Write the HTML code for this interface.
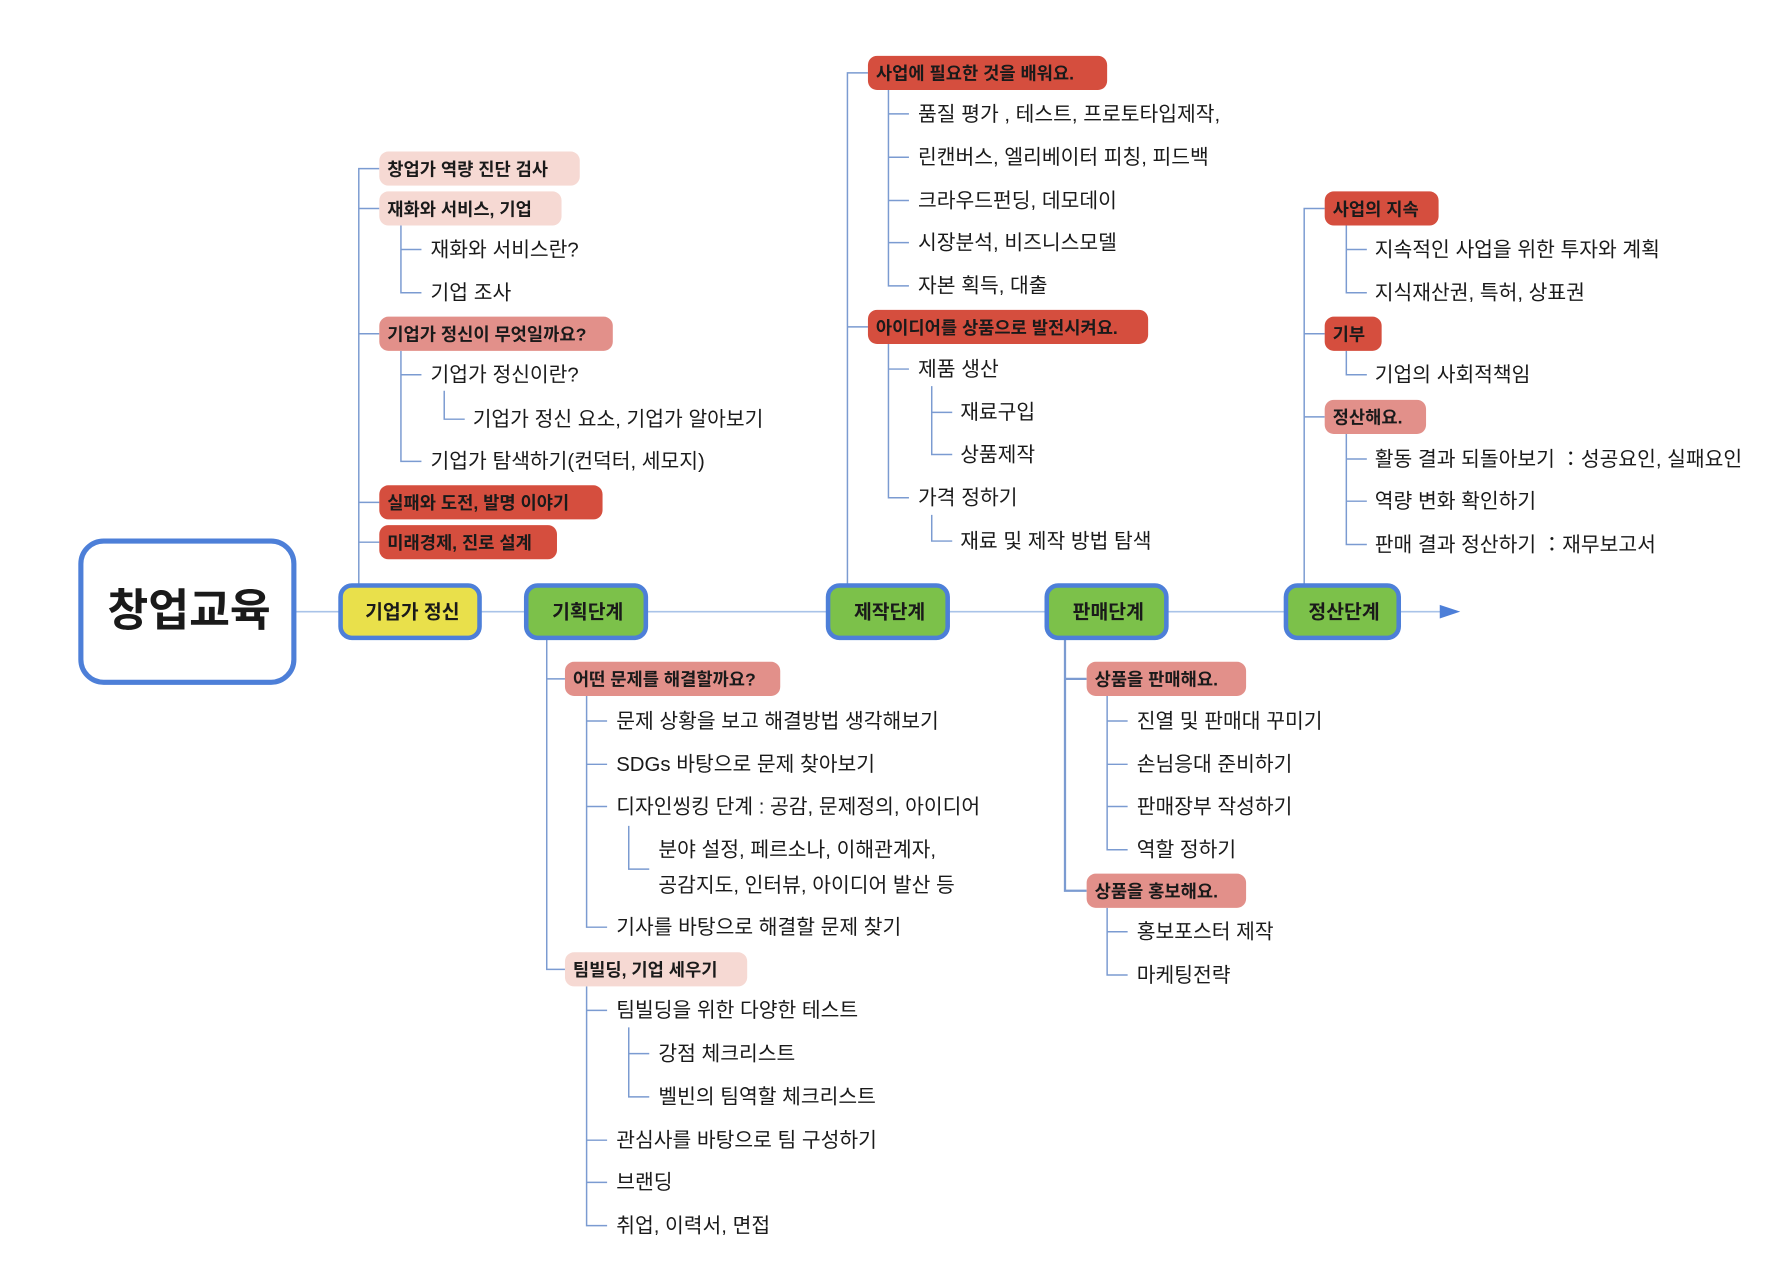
<!DOCTYPE html>
<html><head><meta charset="utf-8"><style>
html,body{margin:0;padding:0;background:#fff;}
svg{display:block;}
text{font-family:"Liberation Sans","Noto Sans CJK KR",sans-serif;fill:#1a1a1a;}
.l{font-size:17.9px;}
.p{font-size:15.5px;font-weight:bold;}
.c{stroke:#7b9bd1;stroke-width:1.3;fill:none;}
.red{fill:#d54e3e;} .mid{fill:#e2908a;} .lt{fill:#f6d9d3;}
.st{stroke:#4d7fd8;stroke-width:4;}
</style></head><body>
<svg width="1786" height="1286" viewBox="0 0 1568 1129" xmlns="http://www.w3.org/2000/svg">
<line x1="259" y1="537" x2="1266" y2="537" stroke="#a9c3e8" stroke-width="1.5"/>
<polygon points="1264,531 1282,537 1264,543" fill="#4d7fd8"/>
<rect x="71" y="475" width="187" height="124" rx="20" fill="#fff" class="st" style="stroke-width:4.5"/>
<text x="166" y="549" text-anchor="middle" style="font-size:39px;font-weight:bold;">창업교육</text>
<!-- branch 1 -->
<path class="c" d="M315 513 V148 H333 M315 183 H333 M315 293 H333 M315 441 H333 M315 476 H333"/>
<path class="c" d="M352 198 V257 H370 M352 219 H370"/>
<path class="c" d="M352 308 V405 H370 M352 329 H370 M390 343 V368 H408"/>
<rect x="333" y="133" width="176" height="30" rx="8" class="lt"/><text x="340" y="154" class="p">창업가 역량 진단 검사</text>
<rect x="333" y="168" width="160" height="30" rx="8" class="lt"/><text x="340" y="189" class="p">재화와 서비스, 기업</text>
<text x="378" y="225" class="l">재화와 서비스란?</text>
<text x="378" y="263" class="l">기업 조사</text>
<rect x="333" y="278" width="205" height="30" rx="8" class="mid"/><text x="340" y="299" class="p">기업가 정신이 무엇일까요?</text>
<text x="378" y="335" class="l">기업가 정신이란?</text>
<text x="415" y="374" class="l">기업가 정신 요소, 기업가 알아보기</text>
<text x="378" y="411" class="l">기업가 탐색하기(컨덕터, 세모지)</text>
<rect x="333" y="426" width="196" height="30" rx="8" class="red"/><text x="340" y="447" class="p">실패와 도전, 발명 이야기</text>
<rect x="333" y="461" width="156" height="30" rx="8" class="red"/><text x="340" y="482" class="p">미래경제, 진로 설계</text>
<!-- branch 2 -->
<path class="c" d="M480 561 V851 H496 M480 596 H496"/>
<path class="c" d="M515 611 V814 H533 M515 633 H533 M515 671 H533 M515 708 H533 M552 725 V763 H570"/>
<path class="c" d="M515 866 V1076 H533 M515 887 H533 M515 1001 H533 M515 1038 H533 M552 902 V963 H570 M552 925 H570"/>
<rect x="496" y="581" width="189" height="30" rx="8" class="mid"/><text x="503" y="602" class="p">어떤 문제를 해결할까요?</text>
<text x="541" y="639" class="l">문제 상황을 보고 해결방법 생각해보기</text>
<text x="541" y="677" class="l">SDGs 바탕으로 문제 찾아보기</text>
<text x="541" y="714" class="l">디자인씽킹 단계 : 공감, 문제정의, 아이디어</text>
<text x="578" y="752" class="l">분야 설정, 페르소나, 이해관계자,</text>
<text x="578" y="783" class="l">공감지도, 인터뷰, 아이디어 발산 등</text>
<text x="541" y="820" class="l">기사를 바탕으로 해결할 문제 찾기</text>
<rect x="496" y="836" width="160" height="30" rx="8" class="lt"/><text x="503" y="857" class="p">팀빌딩, 기업 세우기</text>
<text x="541" y="893" class="l">팀빌딩을 위한 다양한 테스트</text>
<text x="578" y="931" class="l">강점 체크리스트</text>
<text x="578" y="969" class="l">벨빈의 팀역할 체크리스트</text>
<text x="541" y="1007" class="l">관심사를 바탕으로 팀 구성하기</text>
<text x="541" y="1044" class="l">브랜딩</text>
<text x="541" y="1082" class="l">취업, 이력서, 면접</text>
<!-- branch 3 -->
<path class="c" d="M744 513 V64 H762 M744 287 H762"/>
<path class="c" d="M780 79 V251 H798 M780 100 H798 M780 138 H798 M780 176 H798 M780 213 H798"/>
<path class="c" d="M780 302 V437 H798 M780 324 H798 M818 339 V399 H836 M818 362 H836 M818 452 V475 H836"/>
<rect x="762" y="49" width="210" height="30" rx="8" class="red"/><text x="769" y="70" class="p">사업에 필요한 것을 배워요.</text>
<text x="806" y="106" class="l">품질 평가 , 테스트, 프로토타입제작,</text>
<text x="806" y="144" class="l">린캔버스, 엘리베이터 피칭, 피드백</text>
<text x="806" y="182" class="l">크라우드펀딩, 데모데이</text>
<text x="806" y="219" class="l">시장분석, 비즈니스모델</text>
<text x="806" y="257" class="l">자본 획득, 대출</text>
<rect x="762" y="272" width="246" height="30" rx="8" class="red"/><text x="769" y="293" class="p">아이디어를 상품으로 발전시켜요.</text>
<text x="806" y="330" class="l">제품 생산</text>
<text x="843" y="368" class="l">재료구입</text>
<text x="843" y="405" class="l">상품제작</text>
<text x="806" y="443" class="l">가격 정하기</text>
<text x="843" y="481" class="l">재료 및 제작 방법 탐색</text>
<!-- branch 4 -->
<path class="c" d="M935 561 V782 H954 M935 596 H954" style="stroke-width:2"/>
<path class="c" d="M972 611 V746 H990 M972 633 H990 M972 671 H990 M972 708 H990"/>
<path class="c" d="M972 797 V856 H990 M972 818 H990"/>
<rect x="954" y="581" width="140" height="30" rx="8" class="mid"/><text x="961" y="602" class="p">상품을 판매해요.</text>
<text x="998" y="639" class="l">진열 및 판매대 꾸미기</text>
<text x="998" y="677" class="l">손님응대 준비하기</text>
<text x="998" y="714" class="l">판매장부 작성하기</text>
<text x="998" y="752" class="l">역할 정하기</text>
<rect x="954" y="767" width="140" height="30" rx="8" class="mid"/><text x="961" y="788" class="p">상품을 홍보해요.</text>
<text x="998" y="824" class="l">홍보포스터 제작</text>
<text x="998" y="862" class="l">마케팅전략</text>
<!-- branch 5 -->
<path class="c" d="M1145 513 V183 H1163 M1145 293 H1163 M1145 366 H1163"/>
<path class="c" d="M1182 198 V257 H1200 M1182 219 H1200"/>
<path class="c" d="M1182 308 V329 H1200"/>
<path class="c" d="M1182 381 V478 H1200 M1182 403 H1200 M1182 440 H1200"/>
<rect x="1163" y="168" width="100" height="30" rx="8" class="red"/><text x="1170" y="189" class="p">사업의 지속</text>
<text x="1207" y="225" class="l">지속적인 사업을 위한 투자와 계획</text>
<text x="1207" y="263" class="l">지식재산권, 특허, 상표권</text>
<rect x="1163" y="278" width="50" height="30" rx="8" class="red"/><text x="1170" y="299" class="p">기부</text>
<text x="1207" y="335" class="l">기업의 사회적책임</text>
<rect x="1163" y="351" width="89" height="30" rx="8" class="mid"/><text x="1170" y="372" class="p">정산해요.</text>
<text x="1207" y="409" class="l">활동 결과 되돌아보기 ：성공요인, 실패요인</text>
<text x="1207" y="446" class="l">역량 변화 확인하기</text>
<text x="1207" y="484" class="l">판매 결과 정산하기 ：재무보고서</text>
<!-- stage nodes -->
<rect x="299" y="514" width="122" height="46" rx="10" fill="#e9e04b" class="st"/>
<text x="362" y="543" text-anchor="middle" class="p" style="font-size:17px">기업가 정신</text>
<rect x="462" y="514" width="105" height="46" rx="10" fill="#7cc14a" class="st"/>
<text x="516" y="543" text-anchor="middle" class="p" style="font-size:17px">기획단계</text>
<rect x="727" y="514" width="105" height="46" rx="10" fill="#7cc14a" class="st"/>
<text x="781" y="543" text-anchor="middle" class="p" style="font-size:17px">제작단계</text>
<rect x="919" y="514" width="105" height="46" rx="10" fill="#7cc14a" class="st"/>
<text x="973" y="543" text-anchor="middle" class="p" style="font-size:17px">판매단계</text>
<rect x="1129" y="514" width="99" height="46" rx="10" fill="#7cc14a" class="st"/>
<text x="1180" y="543" text-anchor="middle" class="p" style="font-size:17px">정산단계</text>
</svg>
</body></html>
